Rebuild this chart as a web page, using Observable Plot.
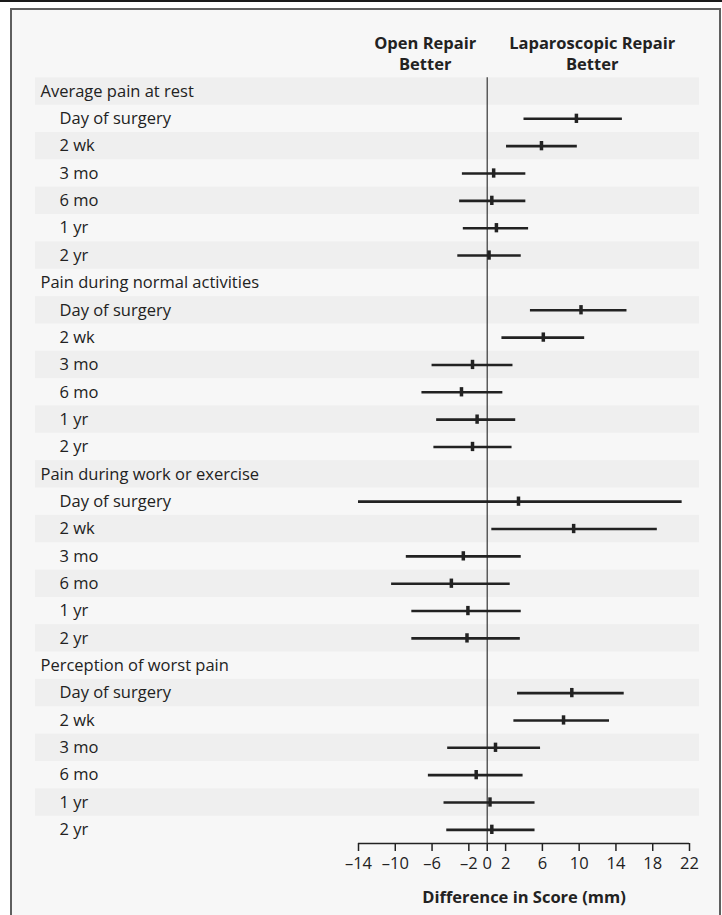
<!DOCTYPE html>
<html>
<head>
<meta charset="utf-8">
<script src="https://cdn.jsdelivr.net/npm/d3@7"></script>
<script src="https://cdn.jsdelivr.net/npm/@observablehq/plot@0.6"></script>
<style>
  html, body { margin: 0; padding: 0; background: #ffffff; }
  #wrap { position: relative; width: 722px; height: 915px; overflow: hidden; }
  #topline { position: absolute; left: 0; top: 0; width: 722px; height: 2px; background: #1a1a1a; }
  #box { position: absolute; left: 10px; top: 8px; width: 707px; height: 920px;
         border: 2.5px solid #5f5f5f; background: #f7f7f7; }
  #chart { position: absolute; left: 0; top: 0; }
</style>
</head>
<body>
<div id="wrap">
  <div id="topline"></div>
  <div id="box"></div>
  <div id="chart"></div>
</div>
<script>
const groups = [
  "Average pain at rest",
  "Pain during normal activities",
  "Pain during work or exercise",
  "Perception of worst pain"
];
const timepoints = ["Day of surgery", "2 wk", "3 mo", "6 mo", "1 yr", "2 yr"];

const restEst = [9.7, 5.9, 0.7, 0.5, 1.0, 0.2];
const restLo  = [4.0, 2.1, -2.7, -3.0, -2.6, -3.2];
const restHi  = [14.7, 9.8, 4.2, 4.2, 4.5, 3.7];

const normalEst = [10.2, 6.1, -1.6, -2.8, -1.1, -1.6];
const normalLo  = [4.7, 1.6, -6.0, -7.1, -5.5, -5.8];
const normalHi  = [15.2, 10.6, 2.8, 1.7, 3.1, 2.7];

const workEst = [3.4, 9.4, -2.6, -3.9, -2.1, -2.2];
const workLo  = [-14.0, 0.5, -8.8, -10.4, -8.2, -8.2];
const workHi  = [21.2, 18.5, 3.7, 2.5, 3.7, 3.6];

const worstEst = [9.2, 8.3, 0.9, -1.2, 0.3, 0.5];
const worstLo  = [3.3, 2.9, -4.3, -6.4, -4.7, -4.4];
const worstHi  = [14.9, 13.3, 5.8, 3.9, 5.2, 5.2];

const xTicks = [-14, -10, -6, -2, 0, 2, 6, 10, 14, 18, 22];
const headerLeft = "Open Repair\nBetter";
const headerRight = "Laparoscopic Repair\nBetter";
const axisTitle = "Difference in Score (mm)";

const series = [
  [restEst, restLo, restHi],
  [normalEst, normalLo, normalHi],
  [workEst, workLo, workHi],
  [worstEst, worstLo, worstHi]
];

const rows = [];
const points = [];
groups.forEach((g, gi) => {
  const base = gi * (timepoints.length + 1);
  rows.push({i: base, label: g, header: true});
  timepoints.forEach((t, ti) => {
    const [e, lo, hi] = series[gi];
    rows.push({i: base + 1 + ti, label: t, header: false});
    points.push({i: base + 1 + ti, est: e[ti], lo: lo[ti], hi: hi[ti]});
  });
});
const nRows = rows.length;

const font = "'Open Sans', 'Noto Sans', sans-serif";
const ink = "#222222";
const fs = 16.5;

const plot = Plot.plot({
  width: 722,
  height: 915,
  marginLeft: 35,
  marginRight: 23,
  marginTop: 77.3,
  marginBottom: 72,
  style: {background: "transparent", fontFamily: font, color: ink, overflow: "visible"},
  x: {domain: [xTicks[0], xTicks[xTicks.length - 1]], range: [358, 689]},
  y: {domain: [-0.5, nRows - 0.5], reverse: true, axis: null},
  marks: [
    Plot.rect(rows.filter(d => d.i % 2 === 0), {
      y1: d => d.i - 0.5, y2: d => d.i + 0.5, fill: "#efefef"
    }),
    Plot.ruleX([0], {y1: -0.5, y2: nRows - 0.5, stroke: "#444", strokeWidth: 1.3}),
    Plot.ruleY([nRows - 0.5], {x1: xTicks[0], x2: xTicks[xTicks.length - 1], stroke: ink, strokeWidth: 1.5}),
    Plot.axisX(xTicks, {
      tickSize: 8, tickPadding: 6, fontSize: fs, stroke: ink, strokeWidth: 1.5, fill: ink,
      label: null,
      tickFormat: d => d < 0 ? "\u2013" + Math.abs(d) : String(d)
    }),
    Plot.text([axisTitle], {
      x: (xTicks[0] + xTicks[xTicks.length - 1]) / 2, frameAnchor: "bottom",
      dy: 59, text: d => d, fontSize: fs, fontWeight: "bold", fill: ink
    }),
    Plot.text(rows.filter(d => d.header), {
      y: "i", text: "label", frameAnchor: "left", textAnchor: "start",
      dx: 5, fontSize: fs, fill: ink
    }),
    Plot.text(rows.filter(d => !d.header), {
      y: "i", text: "label", frameAnchor: "left", textAnchor: "start",
      dx: 24, fontSize: fs, fill: ink
    }),
    Plot.text([headerLeft], {
      x: 0, y: -0.5, dx: -62, dy: -25, text: d => d, textAnchor: "middle",
      lineAnchor: "middle", lineHeight: 1.27, fontSize: fs, fontWeight: "bold", fill: ink
    }),
    Plot.text([headerRight], {
      x: 0, y: -0.5, dx: 105, dy: -25, text: d => d, textAnchor: "middle",
      lineAnchor: "middle", lineHeight: 1.27, fontSize: fs, fontWeight: "bold", fill: ink
    }),
    Plot.ruleY(points, {y: "i", x1: "lo", x2: "hi", stroke: ink, strokeWidth: 2.6}),
    Plot.ruleX(points, {x: "est", y1: d => d.i - 0.17, y2: d => d.i + 0.17, stroke: ink, strokeWidth: 3.5})
  ]
});
document.getElementById("chart").appendChild(plot);
</script>
</body>
</html>
